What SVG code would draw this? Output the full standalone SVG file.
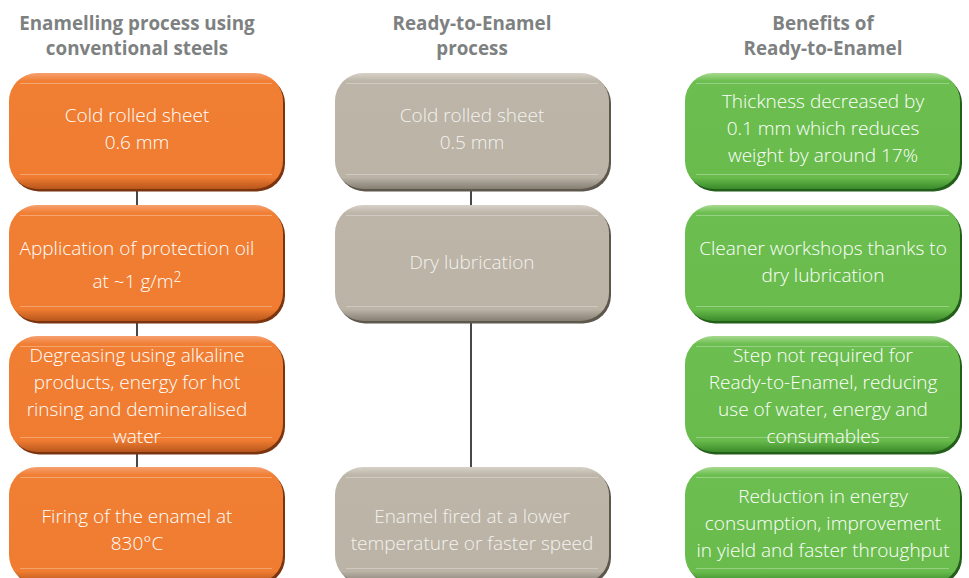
<svg xmlns="http://www.w3.org/2000/svg" width="969" height="578" viewBox="0 0 969 578">
<defs>
<linearGradient id="gO" x1="0" y1="0" x2="0" y2="1">
<stop offset="0" stop-color="#F6A070"/><stop offset="0.07" stop-color="#F07E33"/><stop offset="0.9" stop-color="#EF7C31"/><stop offset="1" stop-color="#B8561C"/>
</linearGradient>
<linearGradient id="gG" x1="0" y1="0" x2="0" y2="1">
<stop offset="0" stop-color="#D6D1C8"/><stop offset="0.07" stop-color="#BCB5A8"/><stop offset="0.9" stop-color="#BAB3A6"/><stop offset="1" stop-color="#857E72"/>
</linearGradient>
<linearGradient id="gN" x1="0" y1="0" x2="0" y2="1">
<stop offset="0" stop-color="#A6D98E"/><stop offset="0.07" stop-color="#6BBE4F"/><stop offset="0.9" stop-color="#69BC4C"/><stop offset="1" stop-color="#3A8A2A"/>
</linearGradient>
</defs>
<style>
.h{font-family:"Open Sans","Liberation Sans",sans-serif;font-weight:700;font-size:18.8px;fill:#7E8181;text-anchor:middle}
.t{font-family:"Open Sans","Liberation Sans",sans-serif;font-weight:300;font-size:19px;fill:#FFFFFF;text-anchor:middle}
.tg{fill:#F4F2EE}
.o .sd{fill:#7A3510}
.g .sd{fill:#5E574C}
.n .sd{fill:#235E1A}
.o .bx{fill:url(#gO)}
.g .bx{fill:url(#gG)}
.n .bx{fill:url(#gN)}
.hl{stroke:#FFFFFF;stroke-opacity:0.3;stroke-width:1}
.c{stroke:#1A1A1A;stroke-width:1.6;fill:none}
</style>
<g id="headers">
<text class="h" x="137" y="30">Enamelling process using</text>
<text class="h" x="137" y="55">conventional steels</text>
<text class="h" x="472" y="30">Ready-to-Enamel</text>
<text class="h" x="472" y="55">process</text>
<text class="h" x="823" y="30">Benefits of</text>
<text class="h" x="823" y="55">Ready-to-Enamel</text>
</g>
<g id="connectors">
<line class="c" x1="137" y1="189" x2="137" y2="205"/>
<line class="c" x1="137" y1="321" x2="137" y2="336"/>
<line class="c" x1="137" y1="452" x2="137" y2="467"/>
<line class="c" x1="471" y1="189" x2="471" y2="205"/>
<line class="c" x1="471" y1="321" x2="471" y2="467"/>
</g>
<g id="o1" class="o">
<rect class="sd" x="11" y="75.5" width="274" height="116" rx="28"/>
<rect class="bx" x="9" y="73" width="274" height="116" rx="28"/>
<line class="hl" x1="20" y1="83.5" x2="272" y2="83.5"/><line class="hl" x1="20" y1="174.5" x2="272" y2="174.5"/>
<text class="t" x="137" y="122">Cold rolled sheet</text>
<text class="t" x="137" y="149">0.6 mm</text>
</g>
<g id="o2" class="o">
<rect class="sd" x="11" y="207.5" width="274" height="116" rx="28"/>
<rect class="bx" x="9" y="205" width="274" height="116" rx="28"/>
<line class="hl" x1="20" y1="215.5" x2="272" y2="215.5"/><line class="hl" x1="20" y1="306.5" x2="272" y2="306.5"/>
<text class="t" x="137" y="255">Application of protection oil</text>
<text class="t" x="137" y="288">at ~1 g/m<tspan font-size="14" dy="-6">2</tspan></text>
</g>
<g id="o3" class="o">
<rect class="sd" x="11" y="338.5" width="274" height="116" rx="28"/>
<rect class="bx" x="9" y="336" width="274" height="116" rx="28"/>
<line class="hl" x1="20" y1="346.5" x2="272" y2="346.5"/><line class="hl" x1="20" y1="437.5" x2="272" y2="437.5"/>
<text class="t" x="137" y="362">Degreasing using alkaline</text>
<text class="t" x="137" y="389">products, energy for hot</text>
<text class="t" x="137" y="416">rinsing and demineralised</text>
<text class="t" x="137" y="443">water</text>
</g>
<g id="o4" class="o">
<rect class="sd" x="11" y="469.5" width="274" height="116" rx="28"/>
<rect class="bx" x="9" y="467" width="274" height="116" rx="28"/>
<line class="hl" x1="20" y1="477.5" x2="272" y2="477.5"/><line class="hl" x1="20" y1="568.5" x2="272" y2="568.5"/>
<text class="t" x="137" y="523">Firing of the enamel at</text>
<text class="t" x="137" y="550">830°C</text>
</g>
<g id="g1" class="g">
<rect class="sd" x="337" y="75.5" width="274" height="116" rx="28"/>
<rect class="bx" x="335" y="73" width="274" height="116" rx="28"/>
<line class="hl" x1="346" y1="83.5" x2="598" y2="83.5"/><line class="hl" x1="346" y1="174.5" x2="598" y2="174.5"/>
<text class="t tg" x="472" y="122">Cold rolled sheet</text>
<text class="t tg" x="472" y="149">0.5 mm</text>
</g>
<g id="g2" class="g">
<rect class="sd" x="337" y="207.5" width="274" height="116" rx="28"/>
<rect class="bx" x="335" y="205" width="274" height="116" rx="28"/>
<line class="hl" x1="346" y1="215.5" x2="598" y2="215.5"/><line class="hl" x1="346" y1="306.5" x2="598" y2="306.5"/>
<text class="t tg" x="472" y="269">Dry lubrication</text>
</g>
<g id="g4" class="g">
<rect class="sd" x="337" y="469.5" width="274" height="116" rx="28"/>
<rect class="bx" x="335" y="467" width="274" height="116" rx="28"/>
<line class="hl" x1="346" y1="477.5" x2="598" y2="477.5"/><line class="hl" x1="346" y1="568.5" x2="598" y2="568.5"/>
<text class="t tg" x="472" y="523">Enamel fired at a lower</text>
<text class="t tg" x="472" y="550">temperature or faster speed</text>
</g>
<g id="n1" class="n">
<rect class="sd" x="687" y="75.5" width="275" height="116" rx="28"/>
<rect class="bx" x="685" y="73" width="275" height="116" rx="28"/>
<line class="hl" x1="696" y1="83.5" x2="949" y2="83.5"/><line class="hl" x1="696" y1="174.5" x2="949" y2="174.5"/>
<text class="t" x="823" y="108">Thickness decreased by</text>
<text class="t" x="823" y="135">0.1 mm which reduces</text>
<text class="t" x="823" y="162">weight by around 17%</text>
</g>
<g id="n2" class="n">
<rect class="sd" x="687" y="207.5" width="275" height="116" rx="28"/>
<rect class="bx" x="685" y="205" width="275" height="116" rx="28"/>
<line class="hl" x1="696" y1="215.5" x2="949" y2="215.5"/><line class="hl" x1="696" y1="306.5" x2="949" y2="306.5"/>
<text class="t" x="823" y="255">Cleaner workshops thanks to</text>
<text class="t" x="823" y="282">dry lubrication</text>
</g>
<g id="n3" class="n">
<rect class="sd" x="687" y="338.5" width="275" height="116" rx="28"/>
<rect class="bx" x="685" y="336" width="275" height="116" rx="28"/>
<line class="hl" x1="696" y1="346.5" x2="949" y2="346.5"/><line class="hl" x1="696" y1="437.5" x2="949" y2="437.5"/>
<text class="t" x="823" y="362">Step not required for</text>
<text class="t" x="823" y="389">Ready-to-Enamel, reducing</text>
<text class="t" x="823" y="416">use of water, energy and</text>
<text class="t" x="823" y="443">consumables</text>
</g>
<g id="n4" class="n">
<rect class="sd" x="687" y="469.5" width="275" height="116" rx="28"/>
<rect class="bx" x="685" y="467" width="275" height="116" rx="28"/>
<line class="hl" x1="696" y1="477.5" x2="949" y2="477.5"/><line class="hl" x1="696" y1="568.5" x2="949" y2="568.5"/>
<text class="t" x="823" y="503">Reduction in energy</text>
<text class="t" x="823" y="530">consumption, improvement</text>
<text class="t" x="823" y="557">in yield and faster throughput</text>
</g>
</svg>
